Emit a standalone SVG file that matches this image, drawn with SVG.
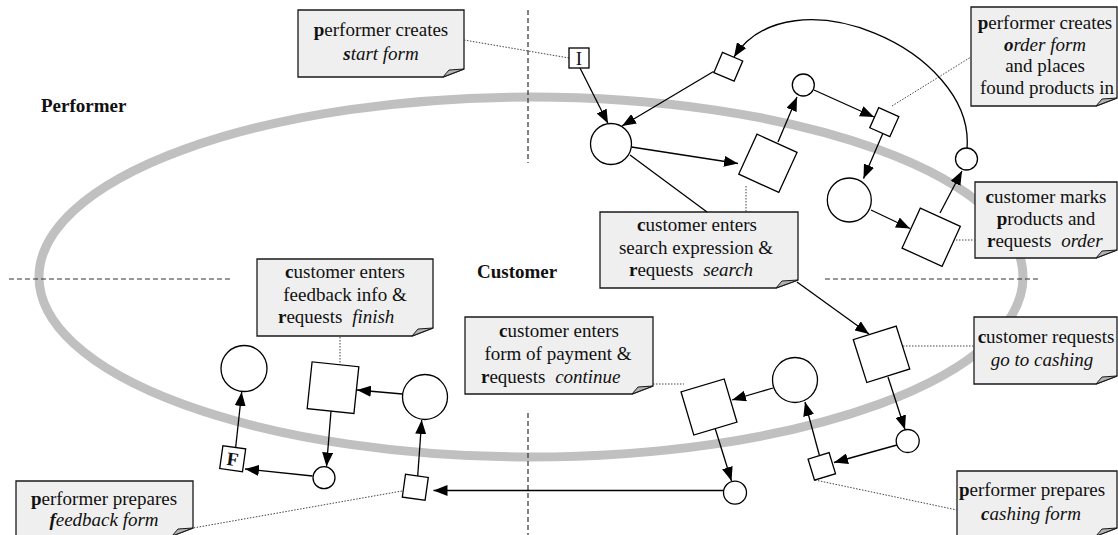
<svg xmlns="http://www.w3.org/2000/svg" width="1118" height="535" viewBox="0 0 1118 535">
<style>
.t{font-family:"Liberation Serif","Times New Roman",serif;font-size:19px;fill:#111}
.c{text-anchor:middle}
.b{font-weight:bold}
.i{font-style:italic}
.note{fill:#efefef;stroke:#1a1a1a;stroke-width:1.3}
.fold{fill:#b4b4b4;stroke:#1a1a1a;stroke-width:1}
.node{fill:#fff;stroke:#000;stroke-width:1.3}
.edge{fill:none;stroke:#000;stroke-width:1.3;marker-end:url(#ah)}
.line{fill:none;stroke:#000;stroke-width:1.3}
.dot{fill:none;stroke:#444;stroke-width:1;stroke-dasharray:1.5,1.5}
.dash{fill:none;stroke:#333;stroke-width:1.2;stroke-dasharray:5,3}
</style>
<defs>
<marker id="ah" markerUnits="userSpaceOnUse" markerWidth="15" markerHeight="11" refX="14" refY="5.5" orient="auto">
<path d="M0,0 L14,5.5 L0,11 Z" fill="#000"/>
</marker>
</defs>
<rect width="1118" height="535" fill="#fff"/>
<g id="swimlane">
<ellipse cx="531" cy="277" rx="492" ry="180" fill="none" stroke="#c0c0c0" stroke-width="9"/>
<line class="dash" x1="528" y1="10" x2="528" y2="163"/>
<line class="dash" x1="528" y1="413" x2="528" y2="535"/>
<line class="dash" x1="9" y1="279" x2="232" y2="279"/>
<line class="dash" x1="825" y1="279" x2="1038" y2="279"/>
<text class="t b" x="41" y="112">Performer</text>
<text class="t b" x="477" y="278">Customer</text>
</g>
<g id="note1">
<path class="note" d="M298,10 H464 V69 L443,77 H298 Z"/>
<path class="fold" d="M443,77 L449,70 L464,69 Z"/>
<text class="t c" x="381" y="36"><tspan class="b">p</tspan>erformer creates</text>
<text class="t c i" x="381" y="60"><tspan class="b">s</tspan>tart form</text>
</g>
<g id="note2">
<path class="note" d="M971,7 H1117 V98 L1096,106 H971 Z"/>
<path class="fold" d="M1096,106 L1102,99 L1117,98 Z"/>
<text class="t c" x="1045" y="29"><tspan class="b">p</tspan>erformer creates</text>
<text class="t c i" x="1045" y="50.5"><tspan class="b">o</tspan>rder form</text>
<text class="t c" x="1045" y="72">and places</text>
<text class="t c" x="1047" y="93.5">found products in</text>
</g>
<g id="note3">
<path class="note" d="M975,182 H1117 V250 L1096,258 H975 Z"/>
<path class="fold" d="M1096,258 L1102,251 L1117,250 Z"/>
<text class="t c" x="1046" y="203"><tspan class="b">c</tspan>ustomer marks</text>
<text class="t c" x="1046" y="225"><tspan class="b">p</tspan>roducts and</text>
<text class="t" x="987" y="247"><tspan class="b">r</tspan>equests <tspan class="i" dx="5">order</tspan></text>
</g>
<g id="note4">
<path class="note" d="M600,212 H798 V280 L776,288 H600 Z"/>
<path class="fold" d="M776,288 L782,281 L798,280 Z"/>
<text class="t c" x="697" y="231"><tspan class="b">c</tspan>ustomer enters</text>
<text class="t c" x="696" y="253.5">search expression &amp;</text>
<text class="t" x="629" y="276"><tspan class="b">r</tspan>equests <tspan class="i" dx="5">search</tspan></text>
</g>
<g id="note5">
<path class="note" d="M257,259 H433 V328 L412,336 H257 Z"/>
<path class="fold" d="M412,336 L418,329 L433,328 Z"/>
<text class="t c" x="345" y="278"><tspan class="b">c</tspan>ustomer enters</text>
<text class="t c" x="345" y="301">feedback info &amp;</text>
<text class="t" x="278" y="323"><tspan class="b">r</tspan>equests <tspan class="i" dx="5">finish</tspan></text>
</g>
<g id="note6">
<path class="note" d="M465,317 H653 V386 L632,394 H465 Z"/>
<path class="fold" d="M632,394 L638,387 L653,386 Z"/>
<text class="t c" x="559" y="337"><tspan class="b">c</tspan>ustomer enters</text>
<text class="t c" x="558" y="360">form of payment &amp;</text>
<text class="t" x="481" y="383"><tspan class="b">r</tspan>equests <tspan class="i" dx="5">continue</tspan></text>
</g>
<g id="note7">
<path class="note" d="M974,317 H1117 V376 L1096,384 H974 Z"/>
<path class="fold" d="M1096,384 L1102,377 L1117,376 Z"/>
<text class="t c" x="1046" y="343"><tspan class="b">c</tspan>ustomer requests</text>
<text class="t c i" x="1042" y="366">go to cashing</text>
</g>
<g id="note8">
<path class="note" d="M957,471 H1117 V528 L1096,536 H957 Z"/>
<path class="fold" d="M1096,536 L1102,529 L1117,528 Z"/>
<text class="t c" x="1032" y="496"><tspan class="b">p</tspan>erformer prepares</text>
<text class="t c i" x="1031" y="520"><tspan class="b">c</tspan>ashing form</text>
</g>
<g id="note9">
<path class="note" d="M16,481 H193 V528 L172,536 H16 Z"/>
<path class="fold" d="M172,536 L178,529 L193,528 Z"/>
<text class="t c" x="104" y="505"><tspan class="b">p</tspan>erformer prepares</text>
<text class="t c i" x="104" y="526"><tspan class="b">f</tspan>eedback form</text>
</g>
<g id="connectors">
<line class="dot" x1="464" y1="40" x2="569" y2="58"/>
<line class="dot" x1="746" y1="186" x2="746" y2="212"/>
<line class="dot" x1="892" y1="106" x2="971" y2="57"/>
<line class="dot" x1="953" y1="240" x2="975" y2="240"/>
<line class="dot" x1="903" y1="346" x2="974" y2="346"/>
<line class="dot" x1="815" y1="480" x2="957" y2="510"/>
<line class="dot" x1="653" y1="384" x2="684" y2="384"/>
<line class="dot" x1="402" y1="491" x2="193" y2="528"/>
<line class="dot" x1="340" y1="337" x2="340" y2="383"/>
<line class="line" x1="630" y1="155" x2="707" y2="212"/>
<line class="edge" x1="580" y1="68" x2="608" y2="123.5"/>
<line class="edge" x1="713.5" y1="71.5" x2="622" y2="126"/>
<path class="edge" d="M967,148 C975,50 790,-30 734,57"/>
<line class="edge" x1="631.5" y1="147" x2="738" y2="163.5"/>
<line class="edge" x1="778" y1="142" x2="797" y2="97"/>
<line class="edge" x1="814" y1="90" x2="874" y2="117"/>
<line class="edge" x1="883" y1="133" x2="863.5" y2="178.5"/>
<line class="edge" x1="871" y1="210" x2="910" y2="228.5"/>
<line class="edge" x1="940" y1="213" x2="962" y2="171"/>
<line class="edge" x1="797" y1="282" x2="869" y2="334"/>
<line class="edge" x1="888" y1="377" x2="905" y2="429.5"/>
<line class="edge" x1="897" y1="445" x2="834" y2="462.5"/>
<line class="edge" x1="819.3" y1="455" x2="805" y2="402"/>
<line class="edge" x1="773" y1="388" x2="732" y2="400"/>
<line class="edge" x1="715" y1="428" x2="731.5" y2="481"/>
<line class="edge" x1="723.5" y1="490.5" x2="433.5" y2="490.5"/>
<line class="edge" x1="417.7" y1="476" x2="421.7" y2="420"/>
<line class="edge" x1="402.5" y1="394" x2="357" y2="390"/>
<line class="edge" x1="331" y1="411" x2="326.5" y2="466.5"/>
<line class="edge" x1="312.5" y1="476" x2="245" y2="469"/>
<line class="edge" x1="235.7" y1="447" x2="241.7" y2="392"/>
</g>
<g id="n_start"><rect class="node" x="569" y="48" width="20" height="20"/><text class="t c" x="579" y="65">I</text></g>
<g id="n_a"><circle class="node" cx="611" cy="144" r="20.5"/></g>
<g id="n_b"><rect class="node" x="-11" y="-11" width="22" height="22" transform="translate(728.3,66.8) rotate(23)"/></g>
<g id="n_c"><rect class="node" x="-22" y="-22" width="44" height="44" transform="translate(767.9,163.3) rotate(24.5)"/></g>
<g id="n_d"><circle class="node" cx="803.3" cy="85" r="11"/></g>
<g id="n_e"><rect class="node" x="-11" y="-11" width="22" height="22" transform="translate(884.3,122.2) rotate(24)"/></g>
<g id="n_f"><circle class="node" cx="849.3" cy="200" r="22"/></g>
<g id="n_g"><rect class="node" x="-22" y="-22" width="44" height="44" transform="translate(931.2,237.2) rotate(24.5)"/></g>
<g id="n_h"><circle class="node" cx="966.5" cy="159" r="11"/></g>
<g id="n_i"><rect class="node" x="-22.5" y="-22.5" width="45" height="45" transform="translate(881.5,354.3) rotate(-17.5)"/></g>
<g id="n_j"><circle class="node" cx="907.7" cy="441" r="11.5"/></g>
<g id="n_k"><rect class="node" x="-11" y="-11" width="22" height="22" transform="translate(821.8,466.4) rotate(-17)"/></g>
<g id="n_l"><circle class="node" cx="795" cy="380" r="22.5"/></g>
<g id="n_m"><rect class="node" x="-22.5" y="-22.5" width="45" height="45" transform="translate(709,407) rotate(-16.5)"/></g>
<g id="n_n"><circle class="node" cx="735" cy="492.7" r="11.5"/></g>
<g id="n_o"><rect class="node" x="-11.5" y="-11.5" width="23" height="23" transform="translate(415.3,487.3) rotate(8)"/></g>
<g id="n_p"><circle class="node" cx="425" cy="397" r="22.5"/></g>
<g id="n_q"><rect class="node" x="-23.5" y="-23.5" width="47" height="47" transform="translate(333,387.7) rotate(6)"/></g>
<g id="n_r"><circle class="node" cx="324" cy="477.7" r="11"/></g>
<g id="n_final"><g transform="translate(232.7,458.7) rotate(8)"><rect class="node" x="-11.5" y="-11.5" width="23" height="23"/><text class="t c b" x="0" y="7">F</text></g></g>
<g id="n_t"><circle class="node" cx="244" cy="368.5" r="23"/></g>
</svg>
